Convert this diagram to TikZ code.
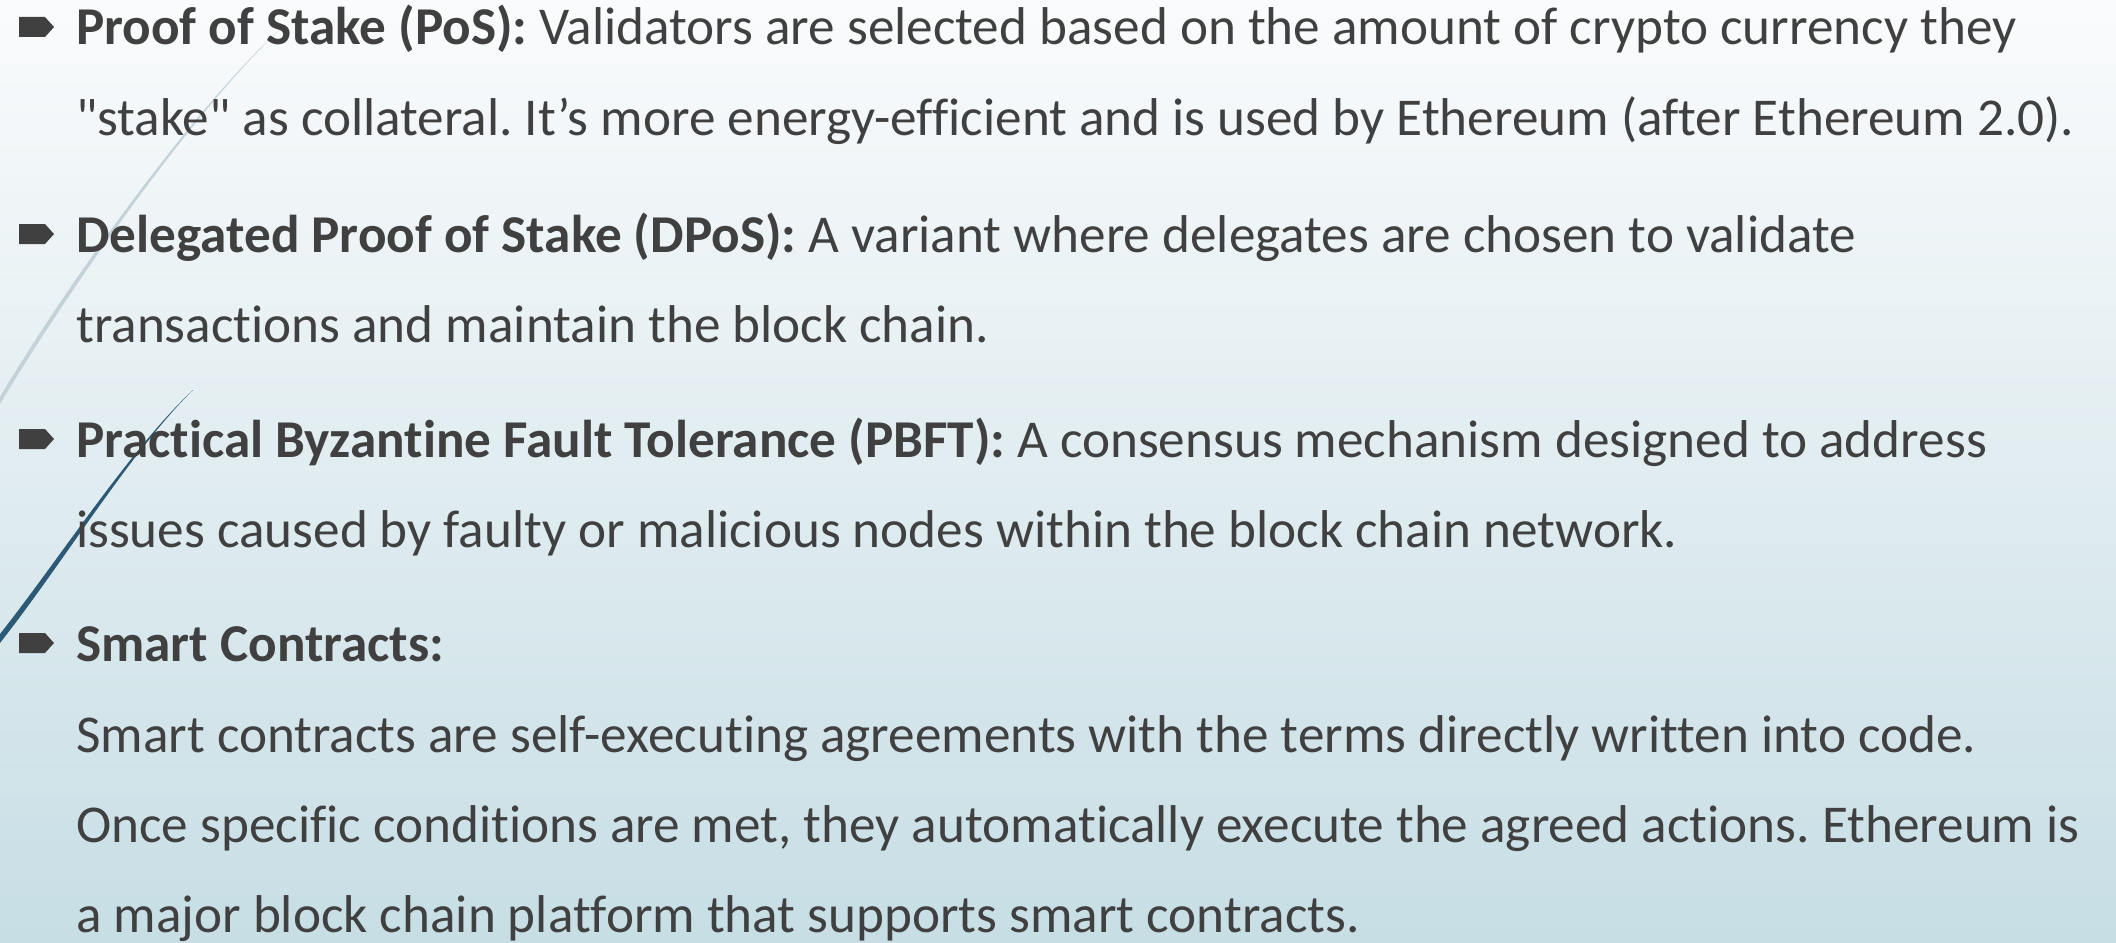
\documentclass[tikz,border=0pt]{standalone}
\usepackage{fontspec}
\setmainfont{Carlito}[Ligatures={NoCommon,TeXOff}]
\frenchspacing
\definecolor{txt}{HTML}{404040}
\definecolor{bgtop}{HTML}{FAFBFC}
\definecolor{bgbot}{HTML}{C7DEE5}
\definecolor{arcdark}{HTML}{2C5975}
\definecolor{arclight}{HTML}{C3D2D9}
\tikzset{
  line/.style={anchor=base west, inner sep=0pt, text=txt, font=\fontsize{53.2}{60}\selectfont},
  bulletmark/.style={fill=txt, draw=none},
}
\begin{document}
\begin{tikzpicture}[x=1pt,y=-1pt]
  \useasboundingbox (0,0) rectangle (2116,942);
  % background wash
  \shade[top color=bgtop, bottom color=bgbot] (0,0) rectangle (2116,942);
  % decorative arcs on the left edge
  \fill[arclight] (0,397) .. controls (70,279) and (200,100) .. (283,27)
                  .. controls (201,101) and (72,284) .. (0,404) -- cycle;
  \fill[arcdark] (0,634) .. controls (60,558) and (130,449) .. (193,390)
                 .. controls (131,451) and (63,563) .. (0,643) -- cycle;
  % bullet arrows
  \foreach \n/\yy in {1/45, 2/252, 3/457, 4/661}{
    \fill[bulletmark] (19,\yy-28) -- (45,\yy-28) -- (54,\yy-18) -- (45,\yy-8) -- (19,\yy-8) -- cycle;
    \coordinate (b\n) at (19,\yy-18);
  }
  % text lines
  \node[line] (l1) at (76,45) {\textbf{Proof of Stake (PoS):} Validators are selected based on the amount of crypto currency they};
  \node[line] (l2) at (76,135) {"stake" as collateral. It’s more energy-efficient and is used by Ethereum (after Ethereum 2.0).};
  \node[line] (l3) at (76,252) {\textbf{Delegated Proof of Stake (DPoS):} A variant where delegates are chosen to validate};
  \node[line] (l4) at (76,342) {transactions and maintain the block chain.};
  \node[line] (l5) at (76,457) {\textbf{Practical Byzantine Fault Tolerance (PBFT):} A consensus mechanism designed to address};
  \node[line] (l6) at (76,547) {issues caused by faulty or malicious nodes within the block chain network.};
  \node[line] (l7) at (76,661) {\textbf{Smart Contracts:}};
  \node[line] (l8) at (76,752) {Smart contracts are self-executing agreements with the terms directly written into code.};
  \node[line] (l9) at (76,842) {Once specific conditions are met, they automatically execute the agreed actions. Ethereum is};
  \node[line] (l10) at (76,932) {a major block chain platform that supports smart contracts.};
\end{tikzpicture}
\end{document}
